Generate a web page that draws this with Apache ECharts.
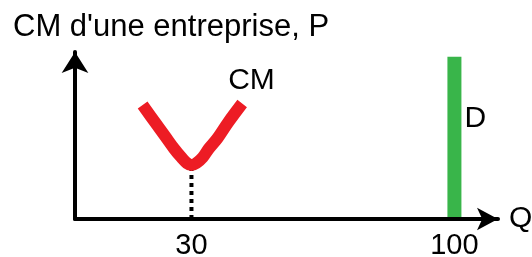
<!DOCTYPE html>
<html>
<head>
<meta charset="utf-8">
<script src="https://cdn.jsdelivr.net/npm/echarts@6/dist/echarts.min.js"></script>
<style>
  html, body { margin: 0; padding: 0; background: #fff; }
  #chart { width: 532px; height: 257px; }
</style>
</head>
<body>
<div id="chart"></div>
<script>
// courbe CM (coût moyen) en forme de U, minimum à Q = 30
const cmQ = [17, 20.3, 23, 25.4, 27.3, 28.8, 30, 31.3, 33, 34.6, 37, 39.8, 43.5]
const cmP = [73, 62, 53, 45, 39.5, 35.8, 34.6, 35.8, 39.5, 45, 52, 62, 74]
// demande D verticale à Q = 100
const demandQ = [100, 100, 100]
const demandP = [1.3, 64, 104]
const qTicks = [30, 100]
const minQ = 30
const minP = 34

const font = 'Liberation Sans, Arial, sans-serif'
const chart = echarts.init(document.getElementById('chart'))

chart.setOption({
  animation: false,
  title: {
    text: "CM d'une entreprise, P",
    left: 8,
    top: 7,
    textStyle: { fontFamily: font, fontSize: 31, fontWeight: 'normal', color: '#000' }
  },
  grid: { left: 75, right: 34, top: 52, bottom: 38, outerBoundsMode: 'none' },
  xAxis: {
    type: 'value',
    min: -1,
    max: 111.6,
    z: 5,
    name: 'Q',
    nameLocation: 'end',
    nameGap: 11,
    nameTextStyle: { fontFamily: font, fontSize: 30, color: '#000', padding: [4, 0, 0, 0] },
    axisLine: {
      onZero: false,
      symbol: ['none', 'arrow'],
      symbolSize: [17, 21],
      lineStyle: { color: '#000', width: 4 }
    },
    axisTick: { show: false },
    splitLine: { show: false },
    axisLabel: {
      customValues: qTicks,
      margin: 12,
      fontFamily: font,
      fontSize: 29,
      color: '#000'
    }
  },
  yAxis: {
    type: 'value',
    min: 0,
    max: 107,
    z: 5,
    axisLine: {
      show: true,
      onZero: false,
      symbol: ['none', 'arrow'],
      symbolSize: [20, 21],
      lineStyle: { color: '#000', width: 4 }
    },
    axisTick: { show: false },
    splitLine: { show: false },
    axisLabel: { show: false }
  },
  series: [
    {
      // pointillés du minimum vers l'axe
      type: 'line',
      data: [[minQ, 0], [minQ, minP]],
      symbol: 'none',
      z: 1,
      lineStyle: { color: '#000', width: 4, type: [4, 4] }
    },
    {
      type: 'line',
      data: cmQ.map((q, i) => [q, cmP[i]]),
      smooth: 0.4,
      symbol: 'none',
      clip: false,
      z: 3,
      lineStyle: { color: '#ED1C24', width: 12, cap: 'butt' },
      endLabel: {
        show: true,
        formatter: 'CM',
        offset: [-22, -23],
        fontFamily: font,
        fontSize: 30,
        color: '#000'
      }
    },
    {
      type: 'line',
      data: demandQ.map((q, i) => ({
        value: [q, demandP[i]],
        label: i === 1
          ? { show: true, position: 'right', distance: 10, formatter: 'D', fontFamily: font, fontSize: 30, color: '#000' }
          : { show: false }
      })),
      symbol: 'circle',
      symbolSize: 0,
      showSymbol: true,
      clip: false,
      z: 3,
      lineStyle: { color: '#39B54A', width: 14, cap: 'butt' }
    }
  ]
})
</script>
</body>
</html>
